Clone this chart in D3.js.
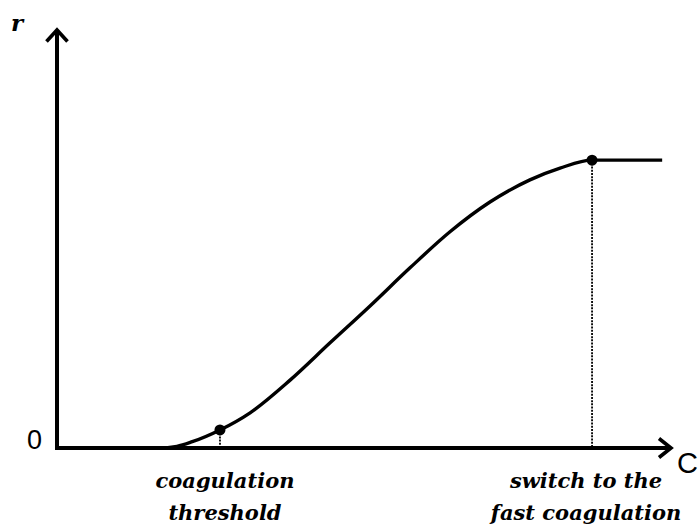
<!DOCTYPE html>
<html>
<head>
<meta charset="utf-8">
<script src="https://cdn.jsdelivr.net/npm/d3@7"></script>
<style>
  html, body { margin: 0; padding: 0; background: #fff; }
  svg { display: block; }
</style>
</head>
<body>
<svg id="chart" width="700" height="527"></svg>
<script>
// Coagulation rate r versus electrolyte concentration C (arbitrary units)
const concentration = [0, 16.5, 19.5, 22.0, 26.5, 31.4, 37.9, 44.4, 50.9, 57.4, 63.9, 70.4, 76.9, 81.8, 87.0, 92.0, 98.4];
const rate          = [0, 0,    0.4,  1.5,  4.3,  8.4, 16.2, 25.1, 33.9, 43.0, 51.6, 58.7, 64.0, 66.8, 68.7, 68.7, 68.7];

// Marked points on the curve and their captions
const markers = [
  { c: 26.5, r: 4.3,  lines: ["coagulation", "threshold"] },
  { c: 87.0, r: 68.7, lines: ["switch to the", "fast coagulation"] }
];

const svg = d3.select("#chart");

const x = d3.scaleLinear().domain([0, 100]).range([57, 672]);
const y = d3.scaleLinear().domain([0, 100]).range([448, 29]);

const ink = "#000";

// Dotted drop lines from the marked points to the C axis
svg.selectAll("line.drop")
  .data(markers)
  .join("line")
  .attr("class", "drop")
  .attr("x1", d => x(d.c)).attr("x2", d => x(d.c))
  .attr("y1", d => y(d.r)).attr("y2", y(0))
  .attr("stroke", ink)
  .attr("stroke-width", 1.8)
  .attr("stroke-dasharray", "2,1.2");

// Rate curve
const line = d3.line()
  .x((d, i) => x(concentration[i]))
  .y(d => y(d))
  .curve(d3.curveMonotoneX);

svg.append("path")
  .datum(rate)
  .attr("d", line)
  .attr("fill", "none")
  .attr("stroke", ink)
  .attr("stroke-width", 3.4)
  .attr("stroke-linejoin", "round");

// Axes with open arrowheads
const axes = svg.append("g")
  .attr("fill", "none")
  .attr("stroke", ink)
  .attr("stroke-width", 4)
  .attr("stroke-linecap", "butt")
  .attr("stroke-linejoin", "miter");

axes.append("line")
  .attr("x1", x(0)).attr("x2", x(0))
  .attr("y1", y(0) + 2).attr("y2", y(100) + 2);
axes.append("path")
  .attr("stroke-width", 3.6)
  .attr("d", `M${x(0) - 10.5},${y(100) + 12.5} L${x(0)},${y(100) + 1} L${x(0) + 10.5},${y(100) + 12.5}`);

axes.append("line")
  .attr("x1", x(0) - 2).attr("x2", x(100) - 2)
  .attr("y1", y(0)).attr("y2", y(0));
axes.append("path")
  .attr("stroke-width", 3.6)
  .attr("d", `M${x(100) - 13},${y(0) - 9.5} L${x(100) - 1},${y(0)} L${x(100) - 13},${y(0) + 9.5}`);

// Marker dots
svg.selectAll("circle.mark")
  .data(markers)
  .join("circle")
  .attr("class", "mark")
  .attr("cx", d => x(d.c))
  .attr("cy", d => y(d.r))
  .attr("r", 5.5)
  .attr("fill", ink);

// Axis labels
svg.append("text")
  .attr("x", 11).attr("y", 31)
  .attr("font-family", "'DejaVu Serif', serif")
  .attr("font-style", "italic").attr("font-weight", "bold")
  .attr("font-size", 23)
  .text("r");

svg.append("text")
  .attr("x", x(0) - 15).attr("y", y(0) + 1)
  .attr("text-anchor", "end")
  .attr("font-family", "'Liberation Sans', Arial, sans-serif")
  .attr("font-size", 27)
  .text("0");

svg.append("text")
  .attr("x", 677).attr("y", 473)
  .attr("font-family", "'Liberation Sans', Arial, sans-serif")
  .attr("font-size", 29)
  .text("C");

// Captions under the marked points
const captions = svg.selectAll("text.caption")
  .data(markers)
  .join("text")
  .attr("class", "caption")
  .attr("text-anchor", "middle")
  .attr("font-family", "'DejaVu Serif', serif")
  .attr("font-style", "italic").attr("font-weight", "bold")
  .attr("font-size", 21);

captions.selectAll("tspan")
  .data(d => d.lines.map((t, i) => ({ t, i, c: d.c })))
  .join("tspan")
  .attr("x", d => x(d.c) + (d.c > 50 ? -6 : 5))
  .attr("y", d => 488 + d.i * 32)
  .text(d => d.t);
</script>
</body>
</html>
